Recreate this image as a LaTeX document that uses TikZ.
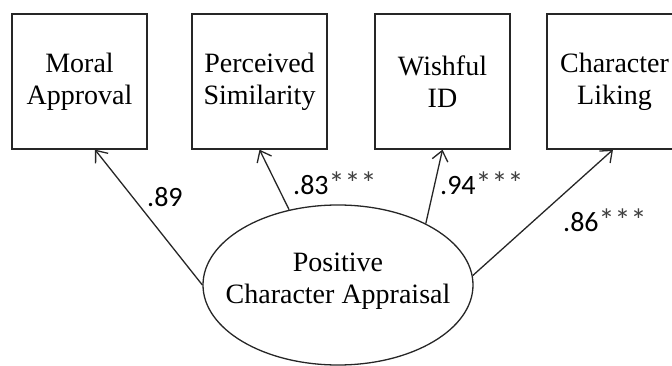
\documentclass[tikz,border=0pt]{standalone}
\usepackage{fontspec}
\setmainfont{Liberation Serif}
\newfontfamily\coeffont{Carlito}
\usetikzlibrary{shapes.geometric,arrows.meta}
% significance stars, set a little larger than the digits
\newcommand{\sigstars}{{\fontsize{32}{32}\selectfont\color{black!75}***}}
\begin{document}
\begin{tikzpicture}[x=1pt,y=-1pt,
  indicator/.style={draw=black!85, line width=1.3pt, minimum width=135pt,
    minimum height=135pt, inner sep=0pt, align=center,
    font=\fontsize{28}{32}\selectfont},
  factor/.style={draw=black!85, ellipse, line width=1.3pt, minimum width=270pt,
    minimum height=160pt, inner sep=0pt},
  factortext/.style={align=center, inner sep=0pt,
    font=\fontsize{28}{32}\selectfont},
  loading/.style={draw=black!85, line width=1.3pt,
    -{Straight Barb[length=10pt,width=16pt,line width=1.3pt]}},
  coef/.style={anchor=base west, inner sep=0pt,
    font=\coeffont\fontsize{28}{32}\selectfont}]
\useasboundingbox (0,0) rectangle (672,366);

% observed indicators
\node[indicator] (moral) at (79.5,81.5) {Moral\\Approval};
\node[indicator] (simil) at (259.5,81.5) {Perceived\\Similarity};
\node[indicator] (wish)  at (442.5,81.5) {Wishful\\ID};
\node[indicator] (liking) at (614.5,81.5) {Character\\Liking};

% latent factor
\node[factor] (pca) at (338,285) {};
\node[factortext] (pcatext) at (338,281) {Positive\\Character Appraisal};

% loadings
\draw[loading] (pca.west) -- ([xshift=15.5pt]moral.south);
\draw[loading] (pca.123.7) -- (simil.south);
\draw[loading] (pca.35.5) -- (wish.south);
\draw[loading] (pca.4.2) -- ([xshift=-1.5pt]liking.south);

% coefficients
\node[coef] (c1) at (147,207) {.89};
\node[coef] (c2) at (293,195) {.83\sigstars};
\node[coef] (c3) at (440,195) {.94\sigstars};
\node[coef] (c4) at (563,232) {.86\sigstars};
\end{tikzpicture}
\end{document}
